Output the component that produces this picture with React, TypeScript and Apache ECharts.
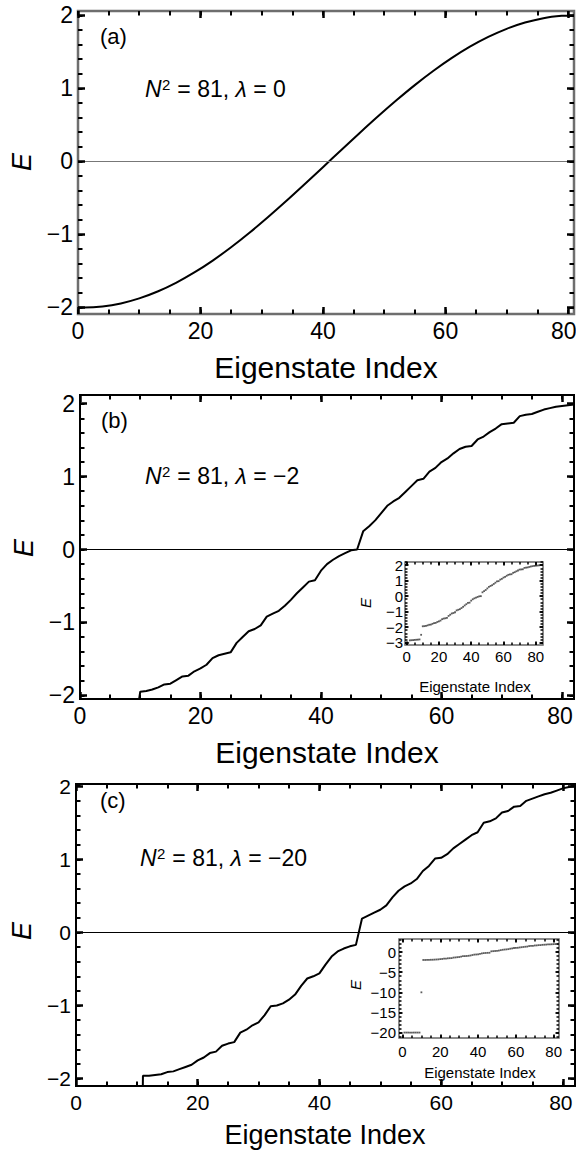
import React, { useEffect, useRef } from "react";
import * as echarts from "echarts";

const FONT = '"Liberation Sans", Arial, Helvetica, sans-serif';
const FONT_NAME = "Liberation Sans";

// ---------------- data ----------------
// Panel (a): N^2 = 81, lambda = 0 (sampled eigenstates)
const A_INDEX = [0, 1, 4, 7, 10, 13, 16, 19, 22, 25, 28, 31, 34, 37, 40, 43, 46, 49, 52, 55, 58, 61, 64, 67, 70, 73, 76, 79, 81];
const A_ENERGY = [-2.0, -2.0, -1.986, -1.945, -1.876, -1.782, -1.663, -1.521, -1.358, -1.176, -0.977, -0.765, -0.543, -0.313, -0.079, 0.157, 0.39, 0.618, 0.837, 1.045, 1.238, 1.414, 1.571, 1.705, 1.816, 1.902, 1.962, 1.994, 2.0];

// Panel (b): lambda = -2, eigenstate index 1..82
const B_ENERGY = [
  -3.02, -2.86, -2.85, -2.84, -2.83, -2.82, -2.81, -2.8, -2.5,
  -1.95, -1.94, -1.92, -1.89, -1.85, -1.84, -1.79, -1.74, -1.73, -1.67,
  -1.63, -1.58, -1.49, -1.45, -1.43, -1.41, -1.28, -1.2, -1.12, -1.09,
  -1.04, -0.92, -0.88, -0.84, -0.77, -0.69, -0.6, -0.52, -0.44, -0.42,
  -0.29, -0.2, -0.14, -0.09, -0.05, -0.01, 0.0, 0.25, 0.32, 0.4,
  0.5, 0.6, 0.66, 0.71, 0.79, 0.87, 0.95, 0.97, 1.07, 1.12,
  1.2, 1.25, 1.32, 1.38, 1.41, 1.42, 1.51, 1.55, 1.61, 1.66,
  1.72, 1.73, 1.74, 1.83, 1.85, 1.86, 1.89, 1.92, 1.94, 1.96,
  1.97, 1.98, 1.99,
];

// Panel (c): lambda = -20, eigenstate index 1..82
const C_ENERGY = [
  -20, -20, -20, -20, -20, -20, -20, -20, -20,
  -10,
  -1.96, -1.96, -1.95, -1.94, -1.91, -1.9, -1.87, -1.84, -1.81,
  -1.75, -1.71, -1.65, -1.63, -1.55, -1.52, -1.5, -1.37, -1.33, -1.27,
  -1.23, -1.13, -1.01, -1.0, -0.97, -0.92, -0.85, -0.73, -0.63, -0.6,
  -0.56, -0.44, -0.33, -0.26, -0.22, -0.19, -0.17, 0.19, 0.23, 0.27,
  0.31, 0.37, 0.48, 0.57, 0.63, 0.67, 0.73, 0.84, 0.91, 1.01,
  1.02, 1.07, 1.15, 1.21, 1.27, 1.33, 1.37, 1.5, 1.52, 1.56,
  1.64, 1.66, 1.72, 1.73, 1.8, 1.83, 1.86, 1.89, 1.91, 1.94,
  1.97, 1.99, 2.0,
];

// tick labels
const X_TICKS = [0, 20, 40, 60, 80];
const Y_TICKS = [-2, -1, 0, 1, 2];
const INSET_B_Y_TICKS = [-3, -2, -1, 0, 1, 2];
const INSET_C_Y_TICKS = [-20, -15, -10, -5, 0];

const X_TITLE = "Eigenstate Index";
const Y_TITLE = "E";
const PANEL_LABELS = ["(a)", "(b)", "(c)"];
const LAMBDAS = ["0", "\u22122", "\u221220"];

// --------------------------------------
const fmt = (v: number) => (v < 0 ? "\u2212" + Math.abs(v) : String(v));

function steps(min: number, max: number, step: number): number[] {
  const out: number[] = [];
  const start = Math.ceil(min / step - 1e-9);
  const end = Math.floor(max / step + 1e-9);
  for (let k = start; k <= end; k++) out.push(Math.round(k * step * 1000) / 1000);
  return out;
}

let measureCtx: CanvasRenderingContext2D | null = null;
function textWidth(t: string, size: number, italic = false): number {
  if (!measureCtx) measureCtx = document.createElement("canvas").getContext("2d");
  if (!measureCtx) return t.length * size * 0.55;
  measureCtx.font = `${italic ? "italic " : ""}${size}px "${FONT_NAME}", Arial, sans-serif`;
  return measureCtx.measureText(t).width;
}

function buildOption() {
  const grids: any[] = [];
  const xAxes: any[] = [];
  const yAxes: any[] = [];
  const series: any[] = [];

  function addPanel(p: any) {
    const gi = grids.length;
    grids.push({
      left: p.left,
      top: p.top,
      width: p.width,
      height: p.height,
      show: true,
      borderColor: p.frameColor,
      borderWidth: p.frameWidth,
      backgroundColor: p.bg || "transparent",
      containLabel: false,
      outerBoundsMode: "none",
      z: p.z,
    });
    const tick = (vals: number[], len: number, w: number) => ({
      show: true,
      inside: true,
      length: len,
      customValues: vals,
      lineStyle: { color: "#000", width: w },
    });
    const base = (pos: string, min: number, max: number) => ({
      type: "value",
      gridIndex: gi,
      position: pos,
      min,
      max,
      axisLine: { show: false, onZero: false },
      splitLine: { show: false },
      minorTick: { show: false },
      axisLabel: { show: false },
      z: p.z + 3,
    });
    const xMinor = steps(p.xMin, p.xMax, p.xMinorStep);
    const yMinor = steps(p.yMin, p.yMax, p.yMinorStep);
    const xi = xAxes.length;
    const yi = yAxes.length;
    const labelStyle = {
      show: true,
      fontSize: p.fontSize,
      fontFamily: FONT,
      color: "#000",
    };
    xAxes.push({
      ...base("bottom", p.xMin, p.xMax),
      axisTick: tick(p.xMajor, p.majLen, p.majW),
      axisLabel: {
        ...labelStyle,
        customValues: p.xMajor,
        margin: p.xLabelMargin,
        formatter: (v: number) =>
          p.lastShift && v === p.xMajor[p.xMajor.length - 1] ? `{r|${fmt(v)}}` : fmt(v),
        rich: p.lastShift
          ? { r: { fontSize: p.fontSize, fontFamily: FONT, color: "#000", padding: [0, p.lastShift, 0, 0] } }
          : undefined,
      },
    });
    xAxes.push({ ...base("bottom", p.xMin, p.xMax), axisTick: tick(xMinor, p.minLen, p.minW) });
    xAxes.push({ ...base("top", p.xMin, p.xMax), axisTick: tick(p.xMajor, p.majLen, p.majW) });
    xAxes.push({ ...base("top", p.xMin, p.xMax), axisTick: tick(xMinor, p.minLen, p.minW) });
    yAxes.push({
      ...base("left", p.yMin, p.yMax),
      axisTick: tick(p.yMajor, p.majLen, p.majW),
      axisLabel: {
        ...labelStyle,
        customValues: p.yMajor,
        margin: p.yLabelMargin,
        formatter: fmt,
      },
    });
    yAxes.push({ ...base("left", p.yMin, p.yMax), axisTick: tick(yMinor, p.minLen, p.minW) });
    yAxes.push({ ...base("right", p.yMin, p.yMax), axisTick: tick(p.yMajor, p.majLen, p.majW) });
    yAxes.push({ ...base("right", p.yMin, p.yMax), axisTick: tick(yMinor, p.minLen, p.minW) });

    const zeroLine = {
      silent: true,
      symbol: ["none", "none"],
      label: { show: false },
      lineStyle: { color: p.zeroColor, width: p.zeroWidth, type: "solid" },
      data: [{ yAxis: 0 }],
    };
    if (p.kind === "line") {
      series.push({
        type: "line",
        xAxisIndex: xi,
        yAxisIndex: yi,
        data: p.data,
        showSymbol: false,
        symbol: "none",
        smooth: p.smooth || false,
        clip: true,
        lineStyle: { color: "#000", width: 2 },
        markLine: zeroLine,
        z: p.z + 2,
        silent: true,
      });
    } else {
      series.push({
        type: "scatter",
        xAxisIndex: xi,
        yAxisIndex: yi,
        data: p.data,
        symbol: "rect",
        symbolSize: 1.8,
        itemStyle: { color: "#333" },
        markLine: zeroLine,
        z: p.z + 2,
        silent: true,
      });
    }
  }

  const mainCommon = {
    xMajor: X_TICKS,
    xMinorStep: 5,
    yMajor: Y_TICKS,
    yMinorStep: 0.2,
    majLen: 7,
    majW: 2.5,
    minLen: 4.5,
    minW: 2,
    fontSize: 23,
    xLabelMargin: 5,
    yLabelMargin: 5,
    kind: "line",
    z: 2,
  };
  const insetCommon = {
    xMajor: X_TICKS,
    xMinorStep: 5,
    majLen: 3.5,
    majW: 1.8,
    minLen: 2.5,
    minW: 1.5,
    fontSize: 15,
    kind: "scatter",
    bg: "#fff",
    frameColor: "#666",
    frameWidth: 1.5,
    zeroColor: "#666",
    zeroWidth: 1,
    z: 10,
  };

  // (a)
  addPanel({
    ...mainCommon,
    left: 78, top: 11, width: 496, height: 303,
    xMin: 0, xMax: 81, yMin: -2.09, yMax: 2.06,
    frameColor: "#6e6e6e", frameWidth: 2.5,
    zeroColor: "#777", zeroWidth: 1,
    smooth: 0.3,
    lastShift: 8,
    data: A_INDEX.map((x, i) => [x, A_ENERGY[i]]),
  });
  // (b)
  addPanel({
    ...mainCommon,
    left: 80, top: 395, width: 494, height: 304,
    xMin: 0, xMax: 82, yMin: -2.05, yMax: 2.12,
    frameColor: "#000", frameWidth: 2,
    zeroColor: "#000", zeroWidth: 1.2,
    lastShift: 4,
    data: B_ENERGY.map((e, i) => [i + 1, e]),
  });
  // (b) inset
  addPanel({
    ...insetCommon,
    left: 405, top: 562, width: 138, height: 83,
    xMin: -1, xMax: 84.5, yMin: -3.16, yMax: 2.21,
    yMajor: INSET_B_Y_TICKS, yMinorStep: 0.2,
    xLabelMargin: 4, yLabelMargin: 2,
    data: B_ENERGY.map((e, i) => [i + 1, e]),
  });
  // (c)
  addPanel({
    ...mainCommon,
    fontSize: 21,
    left: 76, top: 784, width: 499, height: 302,
    xMin: 0, xMax: 82, yMin: -2.1, yMax: 2.03,
    frameColor: "#000", frameWidth: 2,
    zeroColor: "#000", zeroWidth: 1.2,
    xLabelMargin: 6,
    lastShift: 4,
    data: C_ENERGY.map((e, i) => [i + 1, e]),
  });
  // (c) inset
  addPanel({
    ...insetCommon,
    left: 399, top: 939, width: 160, height: 99,
    xMin: -1.85, xMax: 82.8, yMin: -21.35, yMax: 3.25,
    yMajor: INSET_C_Y_TICKS, yMinorStep: 1,
    xLabelMargin: 6, yLabelMargin: 3,
    data: C_ENERGY.map((e, i) => [i + 1, e]),
  });

  const txt = (t: string, x: number, y: number, size: number, extra: any = {}) => ({
    type: "text",
    x,
    y,
    rotation: extra.rotation || 0,
    z: 50,
    silent: true,
    style: {
      text: t,
      x: 0,
      y: 0,
      fill: "#000",
      fontSize: size,
      fontFamily: FONT,
      fontStyle: extra.italic ? "italic" : "normal",
      align: extra.align || "center",
      verticalAlign: "middle",
      rich: extra.rich,
    },
  });

  // "N^2 = 81, λ = ..." built from pieces so the exponent is raised
  const NS = 23;
  const SUP = 15;
  const restRich = {
    t: { fontSize: NS, fontFamily: FONT, fill: "#000" },
    i: { fontStyle: "italic", fontSize: NS, fontFamily: FONT, fill: "#000" },
  };
  const nLabel = (x0: number, y: number, lam: string) => {
    const wN = textWidth("N", NS, true);
    const w2 = textWidth("2", SUP);
    return [
      txt("N", x0, y, NS, { italic: true, align: "left" }),
      txt("2", x0 + wN + 0.5, y - 5, SUP, { align: "left" }),
      txt(`{t| = 81, }{i|\u03bb}{t| = ${lam}}`, x0 + wN + w2 + 1, y, NS, { align: "left", rich: restRich }),
    ];
  };

  const graphic = [
    // axis titles
    txt(X_TITLE, 326, 367, 30),
    txt(X_TITLE, 327, 752, 30),
    txt(X_TITLE, 325, 1135, 27),
    txt(Y_TITLE, 22, 162, 27, { italic: true, rotation: Math.PI / 2 }),
    txt(Y_TITLE, 24, 548, 27, { italic: true, rotation: Math.PI / 2 }),
    txt(Y_TITLE, 22, 931, 27, { italic: true, rotation: Math.PI / 2 }),
    // inset titles
    txt(X_TITLE, 475, 686, 15),
    txt(X_TITLE, 480, 1072, 15),
    txt(Y_TITLE, 365, 603, 15, { italic: true, rotation: Math.PI / 2 }),
    txt(Y_TITLE, 355, 985, 15, { italic: true, rotation: Math.PI / 2 }),
    // panel labels
    txt(PANEL_LABELS[0], 100, 36, 22, { align: "left" }),
    txt(PANEL_LABELS[1], 101, 420, 22, { align: "left" }),
    txt(PANEL_LABELS[2], 100, 800, 22, { align: "left" }),
    ...nLabel(145, 89, LAMBDAS[0]),
    ...nLabel(145, 476, LAMBDAS[1]),
    ...nLabel(140, 858, LAMBDAS[2]),
  ];

  return {
    animation: false,
    backgroundColor: "#fff",
    textStyle: { fontFamily: FONT },
    grid: grids,
    xAxis: xAxes,
    yAxis: yAxes,
    series,
    graphic,
  };
}

export default function App() {
  const ref = useRef<HTMLDivElement | null>(null);
  useEffect(() => {
    if (!ref.current) return;
    const chart = echarts.init(ref.current, undefined, { renderer: "svg" });
    chart.setOption(buildOption() as any);
    return () => chart.dispose();
  }, []);
  return (
    <div
      ref={ref}
      style={{ position: "absolute", left: 0, top: 0, width: 576, height: 1151, background: "#fff" }}
    />
  );
}
